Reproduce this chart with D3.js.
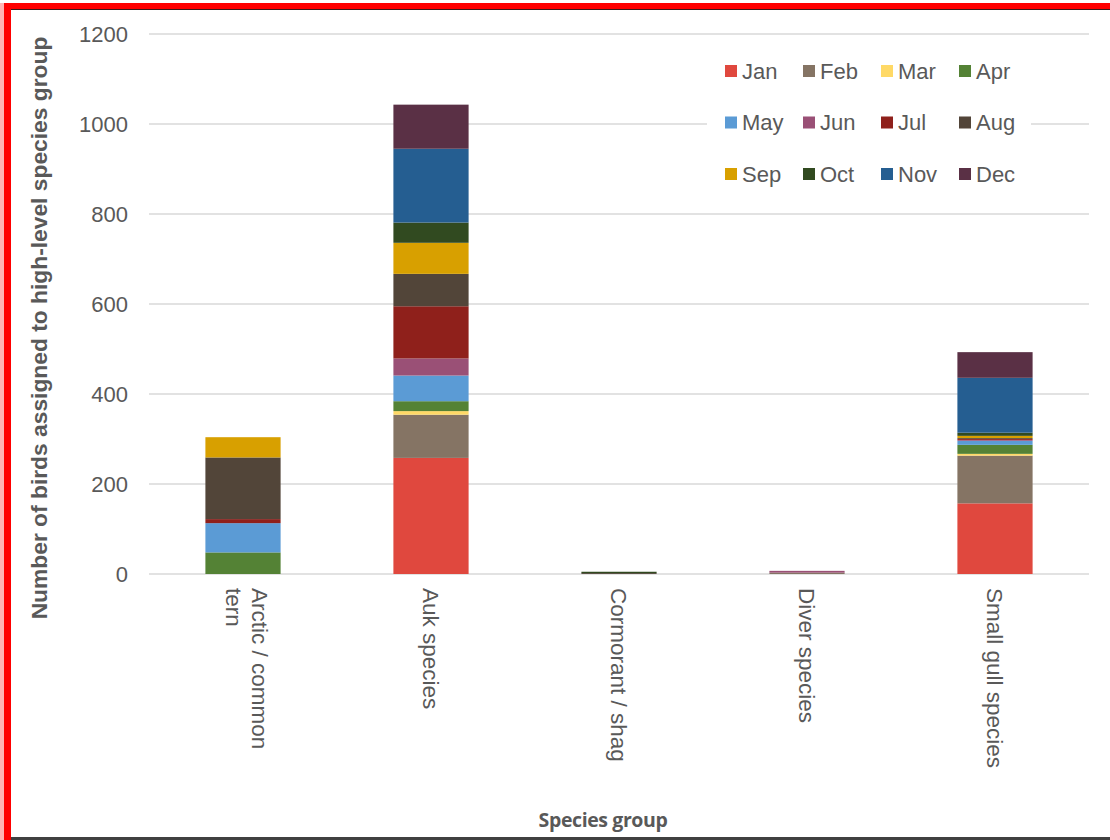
<!DOCTYPE html>
<html>
<head>
<meta charset="utf-8">
<script src="https://d3js.org/d3.v7.min.js"></script>
<style>
  body { margin: 0; background: #fff; }
  svg { display: block; }
</style>
</head>
<body>
<div id="chart"></div>
<script>
var width = 1110;
var height = 840;

// categorias y valores por mes
var categories = ["Arctic / common tern", "Auk species", "Cormorant / shag", "Diver species", "Small gull species"];
var months = ["Jan", "Feb", "Mar", "Apr", "May", "Jun", "Jul", "Aug", "Sep", "Oct", "Nov", "Dec"];
var colors = ["#E0483E", "#857464", "#FFD966", "#548235", "#5B9BD5", "#9A5076",
              "#8F201B", "#524539", "#D8A000", "#314A20", "#255E91", "#5A3045"];

var jan = [0, 258, 0, 0, 157];
var feb = [0, 96, 0, 3, 106];
var mar = [0, 8, 0, 0, 4];
var apr = [48, 22, 0, 0, 20];
var may = [65, 57, 0, 0, 9];
var jun = [0, 38, 0, 4, 2];
var jul = [9, 116, 0, 0, 2];
var aug = [137, 72, 2, 0, 2];
var sep = [45, 69, 0, 0, 5];
var oct = [0, 45, 3, 0, 7];
var nov = [0, 164, 0, 0, 122];
var dec = [0, 98, 0, 0, 57];

var yTicks = [0, 200, 400, 600, 800, 1000, 1200];

var series = [jan, feb, mar, apr, may, jun, jul, aug, sep, oct, nov, dec];
var table = categories.map(function(c, i) {
  var row = { cat: c };
  months.forEach(function(m, j) { row[m] = series[j][i]; });
  return row;
});

var svg = d3.select("#chart")
  .append("svg")
  .attr("width", width)
  .attr("height", height)
  .style("background", "#FFFFFF");

var x = d3.scaleBand()
  .domain(categories)
  .range([149, 1089])
  .paddingInner(0.6)
  .paddingOuter(0.3);

var y = d3.scaleLinear()
  .domain([0, 1200])
  .range([574, 34]);

// lineas de la cuadricula
svg.append("g")
  .selectAll("line")
  .data(yTicks)
  .enter()
  .append("line")
  .attr("x1", 149)
  .attr("x2", 1089)
  .attr("y1", function(d) { return y(d); })
  .attr("y2", function(d) { return y(d); })
  .attr("stroke", "#D9D9D9")
  .attr("stroke-width", 1.5);

// etiquetas del eje y
svg.append("g")
  .selectAll("text")
  .data(yTicks)
  .enter()
  .append("text")
  .attr("x", 128)
  .attr("y", function(d) { return y(d); })
  .attr("dy", "0.35em")
  .attr("text-anchor", "end")
  .attr("fill", "#595959")
  .style("font-family", "Liberation Sans, Arial, sans-serif")
  .style("font-size", "22px")
  .text(function(d) { return d; });

// barras apiladas
var stack = d3.stack().keys(months)(table);

svg.append("g")
  .selectAll("g")
  .data(stack)
  .enter()
  .append("g")
  .attr("fill", function(d, i) { return colors[i]; })
  .selectAll("rect")
  .data(function(d) { return d; })
  .enter()
  .append("rect")
  .attr("x", function(d) { return x(d.data.cat); })
  .attr("width", x.bandwidth())
  .attr("y", function(d) { return y(d[1]); })
  .attr("height", function(d) { return y(d[0]) - y(d[1]); });

// etiquetas del eje x (giradas)
var lines = {
  "Arctic / common tern": ["Arctic / common", "tern"]
};
var xl = svg.append("g")
  .selectAll("text")
  .data(categories)
  .enter()
  .append("text")
  .attr("transform", function(d) {
    return "translate(" + (x(d) + x.bandwidth() / 2) + ",588) rotate(90)";
  })
  .attr("fill", "#595959")
  .style("font-family", "Liberation Sans, Arial, sans-serif")
  .style("font-size", "22.5px")
  .attr("dominant-baseline", "central");

xl.each(function(d) {
  var parts = lines[d] || [d];
  var t = d3.select(this);
  parts.forEach(function(p, i) {
    t.append("tspan")
      .attr("x", 0)
      .attr("y", (i - (parts.length - 1) / 2) * 26 - 4 * (parts.length - 1))
      .text(p);
  });
});

// titulo eje y
svg.append("text")
  .attr("transform", "translate(47,328) rotate(-90)")
  .attr("text-anchor", "middle")
  .attr("fill", "#595959")
  .style("font-family", "Liberation Sans, Arial, sans-serif")
  .style("font-size", "22.8px")
  .style("font-weight", "bold")
  .text("Number of birds assigned to high-level species group");

// titulo eje x
svg.append("text")
  .attr("x", 603)
  .attr("y", 827)
  .attr("text-anchor", "middle")
  .attr("fill", "#595959")
  .style("font-family", "Open Sans, sans-serif")
  .style("font-size", "19.5px")
  .style("font-weight", "bold")
  .style("letter-spacing", "-0.4px")
  .text("Species group");

// leyenda
var legend = svg.append("g");
legend.append("rect")
  .attr("x", 707)
  .attr("y", 48)
  .attr("width", 324)
  .attr("height", 146)
  .attr("fill", "#FFFFFF");

var item = legend.selectAll("g.item")
  .data(months)
  .enter()
  .append("g")
  .attr("class", "item")
  .attr("transform", function(d, i) {
    return "translate(" + (725 + (i % 4) * 78) + "," + (71 + Math.floor(i / 4) * 51.5) + ")";
  });

item.append("rect")
  .attr("x", 0)
  .attr("y", -6)
  .attr("width", 12)
  .attr("height", 12)
  .attr("fill", function(d, i) { return colors[i]; });

item.append("text")
  .attr("x", 17)
  .attr("y", 0)
  .attr("dy", "0.35em")
  .attr("fill", "#595959")
  .style("font-family", "Liberation Sans, Arial, sans-serif")
  .style("font-size", "22px")
  .text(function(d) { return d; });

// marco
svg.append("rect").attr("x", 0).attr("y", 3).attr("width", 4).attr("height", 837).attr("fill", "#FFB3B3");
svg.append("rect").attr("x", 4).attr("y", 3).attr("width", 7).attr("height", 837).attr("fill", "#FF0000");
svg.append("rect").attr("x", 4).attr("y", 3).attr("width", 1106).attr("height", 6).attr("fill", "#FF0000");
svg.append("rect").attr("x", 11).attr("y", 9).attr("width", 1099).attr("height", 1).attr("fill", "#3a1a1a");
svg.append("rect").attr("x", 11).attr("y", 837).attr("width", 1099).attr("height", 3).attr("fill", "#404040");
</script>
</body>
</html>
